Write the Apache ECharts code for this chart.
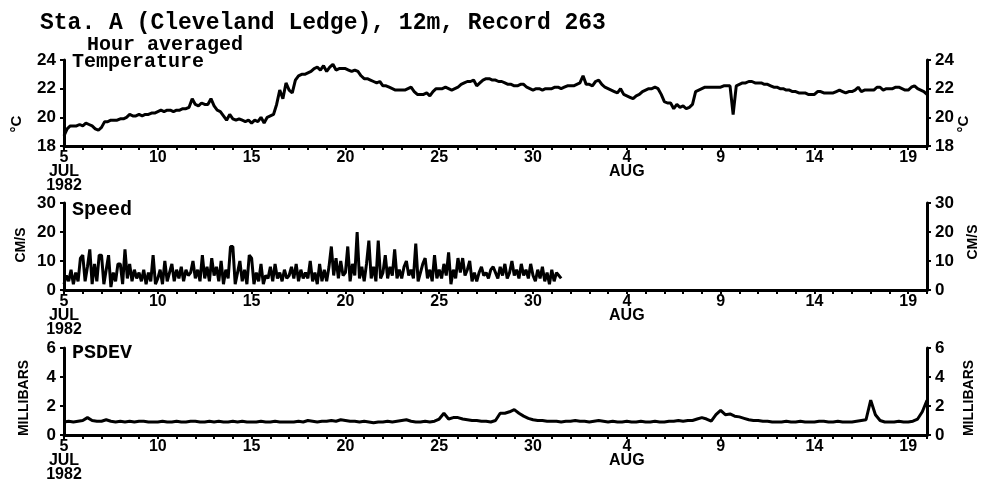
<!DOCTYPE html>
<html><head><meta charset="utf-8">
<script src="https://cdn.jsdelivr.net/npm/echarts@6/dist/echarts.min.js"></script>
<style>html,body{margin:0;padding:0;background:#fff}#c{width:981px;height:487px}</style>
</head><body><div id="c"></div>
<script>
// x axis: days since 5 JUL 1982 00:00
const xTickDays = [0, 5, 10, 15, 20, 25, 30, 35, 40, 45];
const xTickLabels = ['5\nJUL\n1982', '10', '15', '20', '25', '30', '4\nAUG', '9', '14', '19'];

// Temperature (deg C), every 4 hours from 5 JUL 00:00
const tempStepHours = 4;
const tempValues = [
18.7,19.2,19.4,19.4,19.4,19.5, 19.4,19.6,19.5,19.4,19.2,19.1, 19.3,19.7,19.7,19.8,19.8,19.8,
19.9,19.9,20.0,20.2,20.1,20.1, 20.2,20.1,20.2,20.2,20.3,20.3, 20.4,20.5,20.4,20.5,20.5,20.4,
20.5,20.5,20.6,20.6,20.7,21.3, 20.9,20.8,21.0,20.9,20.9,21.3, 20.8,20.5,20.4,20.1,19.8,20.2,
19.9,19.8,19.9,19.8,19.7,19.8, 19.6,19.8,19.7,20.0,19.6,20.0, 20.1,20.2,20.9,21.9,21.3,22.4,
21.9,21.7,22.6,22.9,23.0,23.0, 23.1,23.2,23.4,23.5,23.3,23.6, 23.2,23.5,23.7,23.3,23.4,23.4,
23.4,23.3,23.2,23.3,23.2,22.9, 22.7,22.7,22.6,22.5,22.4,22.5, 22.2,22.2,22.1,22.0,21.9,21.9,
21.9,21.9,22.0,22.1,21.8,21.6, 21.6,21.6,21.7,21.5,21.8,22.0, 22.0,22.0,22.1,22.0,21.9,22.0,
22.1,22.3,22.4,22.5,22.5,22.6, 22.2,22.4,22.6,22.7,22.7,22.6, 22.6,22.5,22.5,22.4,22.3,22.3,
22.2,22.2,22.3,22.3,22.1,22.0, 21.9,22.0,22.0,21.9,22.0,22.0, 22.0,22.1,22.1,22.0,22.1,22.2,
22.2,22.2,22.3,22.4,22.9,22.3, 22.3,22.2,22.5,22.6,22.3,22.1, 22.0,21.9,21.8,21.7,22.0,21.6,
21.5,21.4,21.3,21.5,21.6,21.8, 21.9,22.0,22.0,22.1,22.0,21.6, 21.1,21.0,21.0,20.6,20.9,20.7,
20.8,20.6,20.7,20.9,21.8,21.9, 22.0,22.1,22.1,22.1,22.1,22.1, 22.1,22.2,22.2,22.2,20.2,22.2,
22.3,22.4,22.4,22.5,22.5,22.4, 22.4,22.4,22.3,22.3,22.2,22.1, 22.1,22.0,22.0,21.9,21.9,21.8,
21.8,21.7,21.7,21.7,21.6,21.6, 21.6,21.8,21.8,21.7,21.7,21.7, 21.7,21.8,21.9,21.8,21.7,21.8,
21.8,21.9,22.1,21.8,21.9,21.9, 21.9,21.9,22.1,22.1,21.9,22.0, 22.0,22.0,22.1,22.1,22.0,21.9,
21.9,22.1,22.2,22.0,21.9,21.8, 21.6
];

// Speed (cm/s), every 3 hours from 5 JUL 00:00
const speedStepHours = 3;
const speedValues = [
2,5,3,7,2,6,3,11, 12,3,8,14,2,9,3,12, 12,2,7,12,1,6,3,9, 9,2,14,4,9,3,7,4,
6,3,7,2,6,3,12,2, 4,7,2,10,3,6,9,3, 7,4,8,3,7,5,6,10, 4,7,3,12,4,8,3,11,
5,8,3,10,2,7,4,15, 15,2,6,10,3,7,2,12, 11,2,6,3,9,2,5,4, 8,3,9,4,6,3,7,4,
5,8,4,9,3,7,4,6, 4,10,3,6,2,9,3,7, 3,8,15,5,11,4,10,5, 6,15,3,9,5,20,4,8,
3,9,17,4,8,3,17,4, 6,12,4,8,5,14,4,7, 4,8,10,5,7,4,16,3, 6,9,11,4,7,3,12,4,
7,4,9,5,13,2,7,4, 11,6,11,5,7,10,3,6, 3,6,8,5,6,4,7,8, 6,4,8,5,9,4,6,10,
5,7,4,9,5,7,4,9, 5,3,7,4,8,3,6,2, 7,3,6,5,4
];

// PSDEV (millibars), every 6 hours from 5 JUL 00:00
const psdevStepHours = 6;
const psdevValues = [
0.9,0.95,0.9,0.95, 1.0,1.2,1.0,0.95, 0.95,1.05,0.95,0.9, 0.95,0.9,0.95,0.9, 0.95,0.95,0.9,0.9,
0.9,0.95,0.9,0.9, 0.95,0.9,0.9,0.95, 0.95,0.9,0.9,0.95, 0.9,0.95,0.9,0.9, 0.95,0.9,0.95,0.9,
0.9,0.9,0.95,0.9, 0.9,0.95,0.9,0.9, 0.9,0.9,0.95,0.9, 1.0,0.95,0.9,0.95, 0.95,1.0,0.95,1.05,
1.0,0.95,0.95,0.9, 0.95,0.9,0.85,0.9, 0.9,0.95,0.9,0.95, 1.0,1.05,0.95,0.9, 0.9,0.95,0.9,0.95,
1.1,1.5,1.1,1.2, 1.2,1.1,1.05,1.0, 1.0,0.95,0.95,0.9, 1.0,1.5,1.5,1.6, 1.75,1.5,1.3,1.15,
1.05,1.0,1.0,0.95, 0.95,0.95,0.9,0.95, 0.95,1.0,0.95,0.95, 0.9,0.95,1.0,0.95, 0.9,0.95,0.9,0.9,
0.95,0.9,0.9,0.95, 0.9,0.9,0.95,0.9, 0.9,0.95,0.95,1.0, 0.95,1.0,1.0,1.1, 1.2,1.1,0.95,1.4,
1.7,1.4,1.45,1.3, 1.25,1.15,1.05,1.0, 1.0,0.95,0.95,0.9, 0.9,0.9,0.95,0.9, 0.9,0.95,0.9,0.9,
0.9,0.95,0.95,0.9, 0.9,0.95,0.9,0.9, 0.9,0.95,1.0,1.05, 2.4,1.4,1.0,0.9, 0.9,0.9,0.95,0.9,
0.9,0.95,1.1,1.6, 2.4
];

function toXY(values, stepHours) {
  return values.map((v, i) => [i * stepHours / 24, v]);
}

const FONT_LBL = '"Liberation Sans", Arial, sans-serif';
const FONT_MONO = '"Liberation Mono", "DejaVu Sans Mono", monospace';

const grids = [
  { left: 64, right: 54, top: 60, height: 86 },
  { left: 64, right: 54, top: 203, height: 87 },
  { left: 64, right: 54, top: 348, height: 87 }
];
const yRanges = [
  { min: 18, max: 24, interval: 2 },
  { min: 0, max: 30, interval: 10 },
  { min: 0, max: 6, interval: 2 }
];

function xLabel(v) {
  const i = xTickDays.indexOf(Math.round(v));
  return (i >= 0 && Math.abs(v - xTickDays[i]) < 1e-6) ? xTickLabels[i] : '';
}

const xAxes = grids.map((g, gi) => ({
  type: 'value', gridIndex: gi, min: 0, max: 46, interval: 1,
  axisLine: { show: true, onZero: false, lineStyle: { color: '#000', width: 3 } },
  axisTick: { show: true, length: 4, lineStyle: { color: '#000', width: 2 } },
  axisLabel: { show: true, formatter: xLabel, color: '#000', fontFamily: FONT_LBL, fontWeight: 'bold',
               fontSize: 16, lineHeight: 14, margin: 5 },
  splitLine: { show: false }
}));

const yAxes = [];
grids.forEach((g, gi) => {
  ['left', 'right'].forEach(pos => {
    yAxes.push(Object.assign({
      type: 'value', gridIndex: gi, position: pos,
      axisLine: { show: true, lineStyle: { color: '#000', width: 3 } },
      axisTick: { show: true, length: 4, lineStyle: { color: '#000', width: 2 } },
      axisLabel: { show: true, color: '#000', fontFamily: FONT_LBL, fontWeight: 'bold', fontSize: 17, margin: 8 },
      splitLine: { show: false }
    }, yRanges[gi]));
  });
});

const lineStyle = { color: '#000', width: 3 };
const series = [
  { type: 'line', xAxisIndex: 0, yAxisIndex: 0, data: toXY(tempValues, tempStepHours) },
  { type: 'line', xAxisIndex: 1, yAxisIndex: 2, data: toXY(speedValues, speedStepHours) },
  { type: 'line', xAxisIndex: 2, yAxisIndex: 4, data: toXY(psdevValues, psdevStepHours) }
].map(s => Object.assign(s, { showSymbol: false, symbol: 'none', lineStyle, animation: false }));

function txt(x, y, text, font) {
  return { type: 'text', x, y, style: { text, font, fill: '#000' } };
}
function rot(x, y, text, font) {
  return { type: 'text', x, y, rotation: Math.PI / 2,
    style: { text, font, fill: '#000', align: 'center', verticalAlign: 'middle' } };
}

const graphic = [
  txt(40, 12, 'Sta. A (Cleveland Ledge), 12m, Record 263', 'bold 23px ' + FONT_MONO),
  txt(87, 35, 'Hour averaged', 'bold 20px ' + FONT_MONO),
  txt(72, 52, 'Temperature', 'bold 20px ' + FONT_MONO),
  txt(72, 200, 'Speed', 'bold 20px ' + FONT_MONO),
  txt(72, 343, 'PSDEV', 'bold 20px ' + FONT_MONO),
  rot(17, 124, '°C', 'bold 15px ' + FONT_LBL),
  rot(964, 124, '°C', 'bold 15px ' + FONT_LBL),
  rot(21, 245, 'CM/S', 'bold 14px ' + FONT_LBL),
  rot(973, 242, 'CM/S', 'bold 14px ' + FONT_LBL),
  rot(24, 398, 'MILLIBARS', 'bold 14px ' + FONT_LBL),
  rot(969, 398, 'MILLIBARS', 'bold 14px ' + FONT_LBL)
];

const chart = echarts.init(document.getElementById('c'), null, { renderer: 'canvas' });
chart.setOption({
  animation: false,
  backgroundColor: '#fff',
  grid: grids,
  xAxis: xAxes,
  yAxis: yAxes,
  series,
  graphic
});
</script>
</body></html>
